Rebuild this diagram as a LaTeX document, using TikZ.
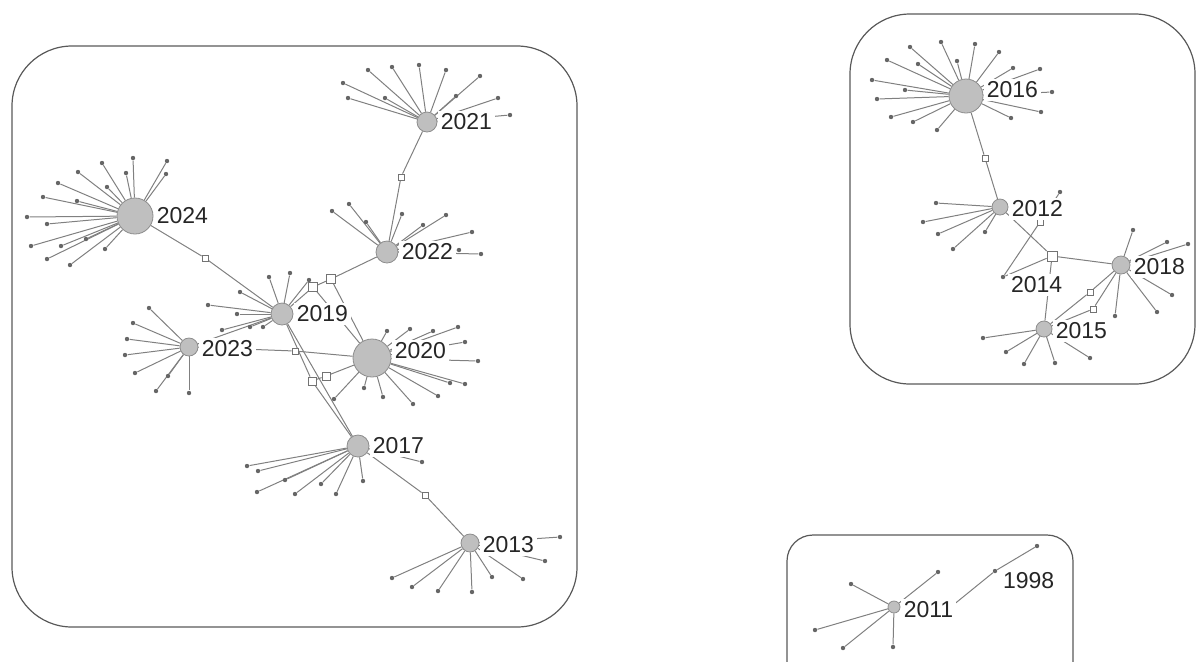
\documentclass[tikz,border=0pt]{standalone}
\usepackage{fontspec}
\setsansfont{Liberation Sans}
\usepackage{tikz}
\usetikzlibrary{positioning, backgrounds}

% hub with its leaves: \fan{hub}{x/y, x/y, ...}
\newcommand{\fan}[2]{%
  \foreach \lx/\ly [count=\li] in {#2} {%
    \node[leaf] (#1-\li) at (\lx,\ly) {};
    \begin{scope}[on background layer]
      \draw[link] (#1) -- (#1-\li);
    \end{scope}
  }%
}

\begin{document}
\begin{tikzpicture}[x=0.5pt, y=-0.5pt,
        hub/.style={circle, draw=black!45, fill=black!25, inner sep=0pt},
        leaf/.style={circle, fill=black!60, inner sep=0pt, minimum size=2.2pt},
        bridge/.style={rectangle, draw=black!55, fill=white, inner sep=0pt, minimum size=3pt, line width=0.4pt},
        link/.style={draw=black!50, line width=0.5pt},
        year/.style={fill=white, inner sep=1.5pt, text=black!85, font=\sffamily\fontsize{11.5}{12}\selectfont},
        group/.style={draw=black!65, line width=0.6pt, rounded corners=30pt}
    ]
        \useasboundingbox (0,0) rectangle (1197,661);
        \clip (0,0) rectangle (1197,661);

        % Groups
        \draw[group] (12,46) rectangle (577,627);
        \draw[group] (850,14) rectangle (1195,384);
        \draw[group, rounded corners=13pt] (787,535) rectangle (1073,700);

        % Years
        \node[hub, minimum size=18pt] (y2024) at (135,216) {};
        \node[hub, minimum size=10pt] (y2021) at (427,122) {};
        \node[hub, minimum size=11pt] (y2022) at (387,252) {};
        \node[hub, minimum size=11pt] (y2019) at (282,314) {};
        \node[hub, minimum size=9pt] (y2023) at (189,347) {};
        \node[hub, minimum size=19pt] (y2020) at (372,358) {};
        \node[hub, minimum size=11pt] (y2017) at (358,446) {};
        \node[hub, minimum size=9pt] (y2013) at (470,543) {};
        \node[hub, minimum size=17pt] (y2016) at (966,96) {};
        \node[hub, minimum size=8pt] (y2012) at (1000,207) {};
        \node[hub, minimum size=9pt] (y2018) at (1121,265) {};
        \node[hub, minimum size=8pt] (y2015) at (1044,329) {};
        \node[hub, minimum size=6pt] (y2011) at (894,607) {};
        \node[leaf] (y2014) at (1003,277) {};
        \node[leaf] (y1998) at (995,571) {};
        \node[leaf] (e2012) at (1060,192) {};
        \coordinate (c1998) at (947,610);

        % Bridges
        \node[bridge] (b1) at (205,258) {};
        \node[bridge, minimum size=4.5pt] (b2) at (313,287) {};
        \node[bridge, minimum size=4.5pt] (b3) at (331,279) {};
        \node[bridge] (b4) at (401,177) {};
        \node[bridge] (b5) at (295,351) {};
        \node[bridge, minimum size=4pt] (b6) at (312,381) {};
        \node[bridge, minimum size=4pt] (b7) at (326,376) {};
        \node[bridge] (b8) at (425,495) {};
        \node[bridge] (b9) at (985,158) {};
        \node[bridge, minimum size=5pt] (b10) at (1052,256) {};
        \node[bridge] (b11) at (1040,222) {};
        \node[bridge] (b12) at (1090,292) {};
        \node[bridge] (b13) at (1093,309) {};

        \begin{scope}[on background layer]
            \draw[link] (y2024) -- (b1) -- (y2019);
            \draw[link] (y2019) -- (b2) -- (b3) -- (y2022);
            \draw[link] (b2) -- (y2020);
            \draw[link] (b3) -- (y2020);
            \draw[link] (y2022) -- (b4) -- (y2021);
            \draw[link] (y2019) -- (y2023);
            \draw[link] (y2023) -- (b5) -- (y2020);
            \draw[link] (y2019) -- (b6) -- (y2017);
            \draw[link] (y2019) -- (y2017);
            \draw[link] (y2020) -- (b7) -- (b6);
            \draw[link] (y2017) -- (b8) -- (y2013);
            \draw[link] (y2016) -- (b9) -- (y2012);
            \draw[link] (y2012) -- (b10) -- (y2018);
            \draw[link] (b10) -- (y2014);
            \draw[link] (b10) -- (y2015);
            \draw[link] (y2014) -- (b11) -- (e2012);
            \draw[link] (y2018) -- (b12) -- (y2015);
            \draw[link] (y2018) -- (b13) -- (y2015);
            \draw[link] (y1998) -- (c1998);
        \end{scope}

        % Leaves
        \fan{y2024}{133/158, 167/161, 166/174, 102/163, 126/173, 78/172, 107/187, 58/183, 43/197, 77/201, 27/217, 47/224, 31/246, 61/246, 86/239, 47/259, 70/265, 105/249}
        \fan{y2021}{368/70, 392/67, 419/65, 446/70, 480/76, 343/83, 348/98, 385/98, 456/96, 498/98, 510/115}
        \fan{y2022}{332/211, 349/204, 366/222, 402/214, 423/225, 446/215, 472/232, 459/250, 481/254}
        \fan{y2019}{269/277, 290/273, 309/280, 240/292, 208/305, 237/314, 222/330, 250/327, 263/327}
        \fan{y2023}{149/308, 133/323, 127/339, 125/355, 135/373, 156/391, 189/393, 168/376}
        \fan{y2020}{387/331, 410/329, 433/331, 458/327, 465/342, 478/361, 465/384, 450/383, 438/396, 413/404, 383/397, 364/388, 334/399}
        \fan{y2017}{247/466, 258/471, 285/480, 257/492, 295/494, 321/484, 336/494, 363/481, 422/462}
        \fan{y2013}{392/578, 412/587, 438/591, 472/592, 492/577, 523/579, 560/537, 545/561}
        \fan{y2016}{910/47, 941/42, 975/44, 999/52, 957/61, 918/64, 887/60, 872/80, 905/90, 877/99, 891/117, 913/122, 937/130, 1011/118, 1041/112, 1052/92, 1040/69, 1013/68}
        \fan{y2012}{936/203, 923/222, 938/234, 953/249, 985/232}
        \fan{y2018}{1133/230, 1167/242, 1188/244, 1172/295, 1157/312, 1115/316}
        \fan{y2015}{983/338, 1006/352, 1024/364, 1055/363, 1090/358}
        \fan{y2011}{851/584, 815/630, 843/648, 893/647, 938/572}
        \fan{y1998}{1037/546}

        % Labels
        \node[year, right=0pt of y2024] (t2024) {2024};
        \node[year, right=0pt of y2021] (t2021) {2021};
        \node[year, right=0pt of y2022] (t2022) {2022};
        \node[year, right=0pt of y2019] (t2019) {2019};
        \node[year, right=0pt of y2023, yshift=-1pt] (t2023) {2023};
        \node[year, right=0pt of y2020, yshift=3.5pt] (t2020) {2020};
        \node[year, right=0pt of y2017] (t2017) {2017};
        \node[year, right=0pt of y2013, yshift=-1pt] (t2013) {2013};
        \node[year, right=0pt of y2016, yshift=3pt] (t2016) {2016};
        \node[year, right=0pt of y2012, yshift=-1pt] (t2012) {2012};
        \node[year, right=0pt of y2018, yshift=-1pt] (t2018) {2018};
        \node[year, right=0pt of y2015, yshift=-1pt] (t2015) {2015};
        \node[year, right=1pt of y2014, yshift=-4pt] (t2014) {2014};
        \node[year, right=0pt of y2011, yshift=-1.5pt] (t2011) {2011};
        \node[year, right=1pt of y1998, yshift=-5pt] (t1998) {1998};
    \end{tikzpicture}
\end{document}
